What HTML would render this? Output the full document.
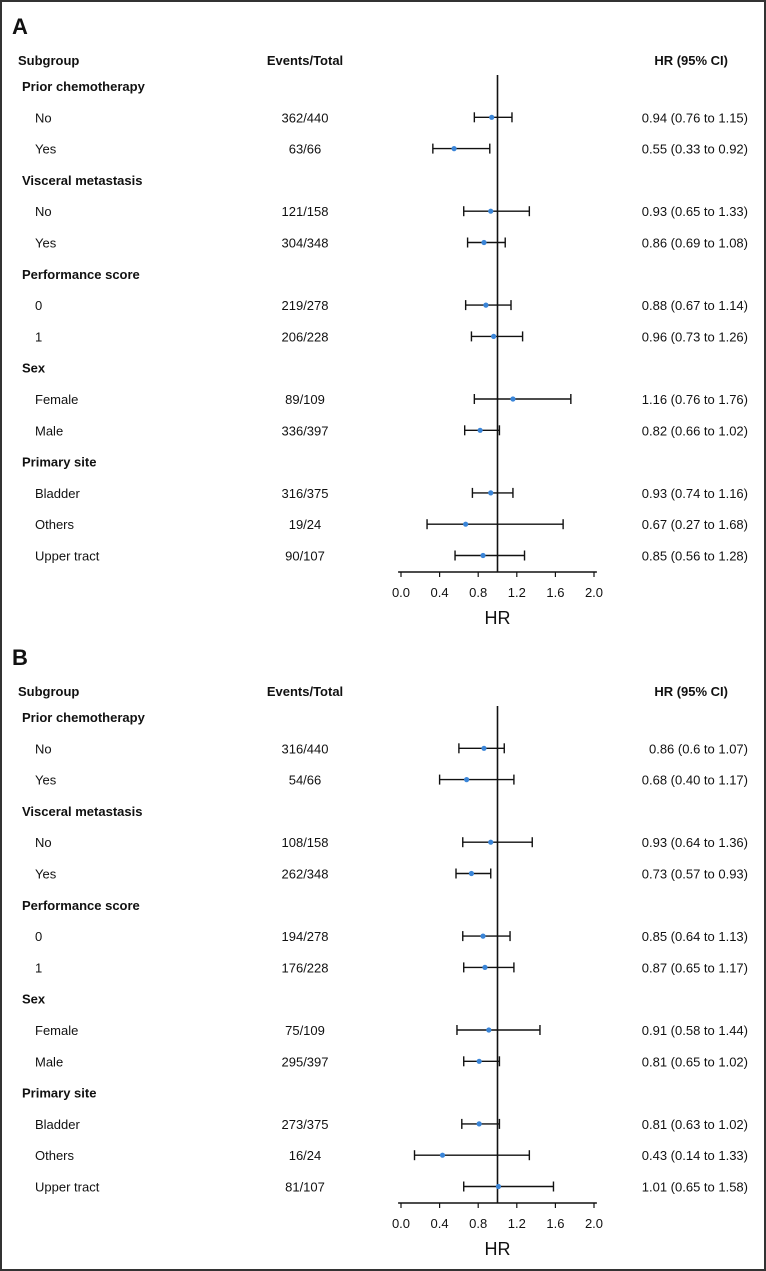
<!DOCTYPE html>
<html><head><meta charset="utf-8"><style>
html,body{margin:0;padding:0;background:#fff}
svg{display:block;font-family:"Liberation Sans",Arial,sans-serif}
</style></head><body>
<svg id="chart" width="766" height="1271" viewBox="0 0 766 1271" xmlns="http://www.w3.org/2000/svg">
<rect x="1" y="1" width="764" height="1269" fill="#fff" stroke="#333" stroke-width="2"/>
</svg>
<script>
const rowLabels = ["Prior chemotherapy","No","Yes","Visceral metastasis","No","Yes","Performance score","0","1","Sex","Female","Male","Primary site","Bladder","Others","Upper tract"];
const isHeader = [1,0,0,1,0,0,1,0,0,1,0,0,1,0,0,0];
const eventsA = ["","362/440","63/66","","121/158","304/348","","219/278","206/228","","89/109","336/397","","316/375","19/24","90/107"];
const hrA = [null,0.94,0.55,null,0.93,0.86,null,0.88,0.96,null,1.16,0.82,null,0.93,0.67,0.85];
const loA = [null,0.76,0.33,null,0.65,0.69,null,0.67,0.73,null,0.76,0.66,null,0.74,0.27,0.56];
const hiA = [null,1.15,0.92,null,1.33,1.08,null,1.14,1.26,null,1.76,1.02,null,1.16,1.68,1.28];
const textA = ["","0.94 (0.76 to 1.15)","0.55 (0.33 to 0.92)","","0.93 (0.65 to 1.33)","0.86 (0.69 to 1.08)","","0.88 (0.67 to 1.14)","0.96 (0.73 to 1.26)","","1.16 (0.76 to 1.76)","0.82 (0.66 to 1.02)","","0.93 (0.74 to 1.16)","0.67 (0.27 to 1.68)","0.85 (0.56 to 1.28)"];
const eventsB = ["","316/440","54/66","","108/158","262/348","","194/278","176/228","","75/109","295/397","","273/375","16/24","81/107"];
const hrB = [null,0.86,0.68,null,0.93,0.73,null,0.85,0.87,null,0.91,0.81,null,0.81,0.43,1.01];
const loB = [null,0.6,0.40,null,0.64,0.57,null,0.64,0.65,null,0.58,0.65,null,0.63,0.14,0.65];
const hiB = [null,1.07,1.17,null,1.36,0.93,null,1.13,1.17,null,1.44,1.02,null,1.02,1.33,1.58];
const textB = ["","0.86 (0.6 to 1.07)","0.68 (0.40 to 1.17)","","0.93 (0.64 to 1.36)","0.73 (0.57 to 0.93)","","0.85 (0.64 to 1.13)","0.87 (0.65 to 1.17)","","0.91 (0.58 to 1.44)","0.81 (0.65 to 1.02)","","0.81 (0.63 to 1.02)","0.43 (0.14 to 1.33)","1.01 (0.65 to 1.58)"];
const ticks = [0,0.4,0.8,1.2,1.6,2.0];
const tickLabels = ["0.0","0.4","0.8","1.2","1.6","2.0"];

const svg = document.getElementById('chart');
const NS = "http://www.w3.org/2000/svg";
const xScale = v => 401 + v * 96.5;
function mk(tag, attrs, txt){
  const e = document.createElementNS(NS, tag);
  for (const k in attrs) e.setAttribute(k, attrs[k]);
  if (txt !== undefined) e.textContent = txt;
  svg.appendChild(e);
  return e;
}
function panel(letter, top, events, hr, lo, hi, txt){
  const rowY = i => top + 26 + i * 31.3;
  const axisY = top + 512;
  let e;
  e = mk('text',{x:12,y:top-26,'font-size':22,'font-weight':'bold',fill:'#111'},letter);
  
  
  e = mk('text',{x:18,y:top+5,'font-size':13,'font-weight':'bold',fill:'#111'},'Subgroup');
  
  
  e = mk('text',{x:305,y:top+5,'font-size':13,'font-weight':'bold',fill:'#111','text-anchor':'middle'},'Events/Total');
  
  
  e = mk('text',{x:728,y:top+5,'font-size':13,'font-weight':'bold',fill:'#111','text-anchor':'end'},'HR (95% CI)');
  
  
  e = mk('line',{x1:xScale(1),x2:xScale(1),y1:top+15,y2:axisY,stroke:'#111','stroke-width':1.6});
  
  
  for (let i=0;i<rowLabels.length;i++){
    const y = rowY(i);
    if (isHeader[i]){
      e = mk('text',{x:22,y:y+5,'font-size':13,'font-weight':'bold',fill:'#111'},rowLabels[i]);
      
      
      continue;
    }
    e = mk('text',{x:35,y:y+5,'font-size':13,fill:'#111'},rowLabels[i]);
    
    
    e = mk('text',{x:305,y:y+5,'font-size':13,fill:'#111','text-anchor':'middle'},events[i]);
    
    
    e = mk('text',{x:748,y:y+5,'font-size':13,fill:'#111','text-anchor':'end'},txt[i]);
    
    
    e = mk('line',{x1:xScale(lo[i]),x2:xScale(hi[i]),y1:y,y2:y,stroke:'#111','stroke-width':1.4});
    
    
    e = mk('line',{x1:xScale(lo[i]),x2:xScale(lo[i]),y1:y-5,y2:y+5,stroke:'#111','stroke-width':1.4});
    
    
    e = mk('line',{x1:xScale(hi[i]),x2:xScale(hi[i]),y1:y-5,y2:y+5,stroke:'#111','stroke-width':1.4});
    
    
    e = mk('circle',{cx:xScale(hr[i]),cy:y,r:2.6,fill:'#3a85d8'});
    
    
  }
  e = mk('line',{x1:xScale(-0.03),x2:xScale(2.03),y1:axisY,y2:axisY,stroke:'#111','stroke-width':1.4});
  
  
  for (let t=0;t<ticks.length;t++){
    const x = xScale(ticks[t]);
    e = mk('line',{x1:x,x2:x,y1:axisY,y2:axisY+5,stroke:'#111','stroke-width':1.2});
    
    
    e = mk('text',{x:x,y:axisY+25,'font-size':13,fill:'#111','text-anchor':'middle'},tickLabels[t]);
    
    
  }
  e = mk('text',{x:xScale(1),y:axisY+52,'font-size':18,fill:'#111','text-anchor':'middle'},'HR');
  
  
}
panel('A', 60, eventsA, hrA, loA, hiA, textA);
panel('B', 691, eventsB, hrB, loB, hiB, textB);
</script>
</body></html>
